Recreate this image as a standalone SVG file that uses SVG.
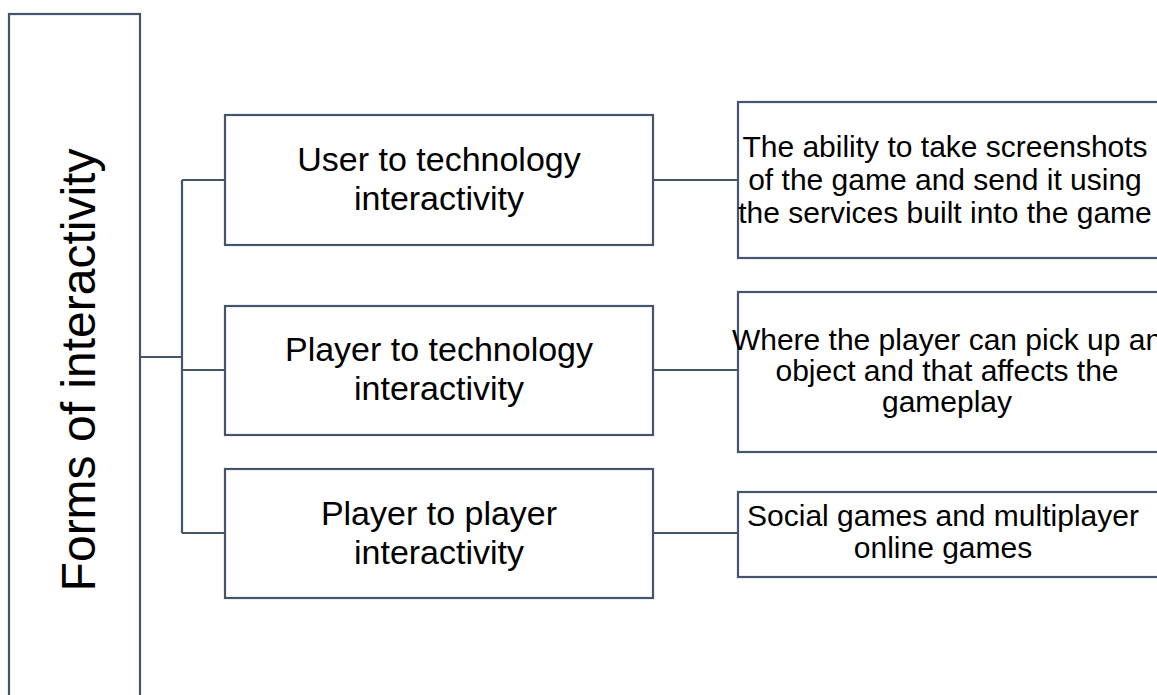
<svg xmlns="http://www.w3.org/2000/svg" width="1157" height="695" viewBox="0 0 1157 695">
  <style>
    .box { fill: #ffffff; stroke: #44546A; stroke-width: 2.2; }
    .wire { fill: none; stroke: #44546A; stroke-width: 2.2; }
    .lbl { font-family: "Liberation Sans", Arial, sans-serif; fill: #000000; text-anchor: middle; }
    .mid { font-size: 34px; }
    .det { font-size: 30px; }
    .root { font-size: 48px; }
  </style>
  <rect width="1157" height="695" fill="#ffffff"/>

  <!-- connectors -->
  <g id="connectors">
    <path class="wire" d="M140 357 H182 M182 180 V533 M182 180 H225 M182 370 H225 M182 533 H225"/>
    <path class="wire" d="M653 180 H738 M653 370 H738 M653 533 H738"/>
  </g>

  <!-- root -->
  <g id="forms">
    <rect class="box" x="9" y="14" width="131" height="700"/>
    <text class="lbl root" transform="translate(95 370) rotate(-90)">Forms of interactivity</text>
  </g>

  <!-- categories -->
  <g id="user-tech">
    <rect class="box" x="225" y="115" width="428" height="130"/>
    <text class="lbl mid" x="439" y="171">User to technology</text>
    <text class="lbl mid" x="439" y="210">interactivity</text>
  </g>
  <g id="player-tech">
    <rect class="box" x="225" y="306" width="428" height="129"/>
    <text class="lbl mid" x="439" y="361">Player to technology</text>
    <text class="lbl mid" x="439" y="400">interactivity</text>
  </g>
  <g id="player-player">
    <rect class="box" x="225" y="469" width="428" height="129"/>
    <text class="lbl mid" x="439" y="525">Player to player</text>
    <text class="lbl mid" x="439" y="564">interactivity</text>
  </g>

  <!-- examples -->
  <g id="user-tech-example">
    <rect class="box" x="738" y="102" width="440" height="156"/>
    <text class="lbl det" x="945" y="157">The ability to take screenshots</text>
    <text class="lbl det" x="945" y="190">of the game and send it using</text>
    <text class="lbl det" x="945" y="223">the services built into the game</text>
  </g>
  <g id="player-tech-example">
    <rect class="box" x="738" y="292" width="440" height="160"/>
    <text class="lbl det" x="947" y="350">Where the player can pick up an</text>
    <text class="lbl det" x="947" y="381">object and that affects the</text>
    <text class="lbl det" x="947" y="412">gameplay</text>
  </g>
  <g id="player-player-example">
    <rect class="box" x="738" y="492" width="440" height="85"/>
    <text class="lbl det" x="943" y="526">Social games and multiplayer</text>
    <text class="lbl det" x="943" y="558">online games</text>
  </g>
</svg>
